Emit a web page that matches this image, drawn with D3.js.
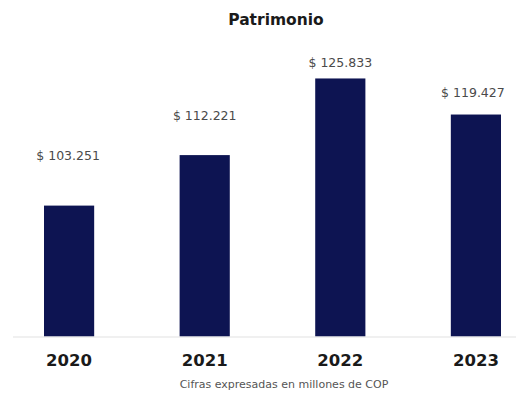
<!DOCTYPE html>
<html>
<head>
<meta charset="utf-8">
<script src="https://cdn.jsdelivr.net/npm/d3@7"></script>
<style>
  html, body { margin: 0; padding: 0; background: #fff; }
  svg { display: block; }
</style>
</head>
<body>
<svg id="chart" width="522" height="394"></svg>
<script>
// ---- data ----
const categories = ["2020", "2021", "2022", "2023"];
const values = [103251, 112221, 125833, 119427];
const valueLabels = ["$ 103.251", "$ 112.221", "$ 125.833", "$ 119.427"];
const title = "Patrimonio";
const subtitle = "Cifras expresadas en millones de COP";

// ---- layout ----
const W = 522, H = 394;
const baseY = 336.5;
const labelGap = [46, 35, 11.5, 17.5]; // distance of value label above bar top
const labelDx = [-1, 0, 0, -3];

const svg = d3.select("#chart");

const x = d3.scaleBand()
  .domain(categories)
  .range([44, 501])
  .paddingInner(0.63)
  .paddingOuter(0);

const y = d3.scaleLinear()
  .domain([80000, 130000])
  .range([baseY, baseY - 281.5]);

// title
svg.append("text")
  .attr("x", 276).attr("y", 25)
  .attr("text-anchor", "middle")
  .attr("font-family", "DejaVu Sans, Verdana, sans-serif")
  .attr("font-weight", "bold")
  .attr("font-size", 15.5)
  .attr("fill", "#1a1a1a")
  .text(title);

// bars
svg.selectAll("rect.bar")
  .data(values)
  .join("rect")
  .attr("class", "bar")
  .attr("x", (d, i) => x(categories[i]))
  .attr("width", x.bandwidth())
  .attr("y", d => y(d))
  .attr("height", d => baseY - y(d))
  .attr("fill", "#0d1452");

// baseline axis
const xAxis = d3.axisBottom(x).tickSize(0).tickPadding(0);
const axisG = svg.append("g")
  .attr("transform", `translate(0,${baseY + 0.5})`)
  .call(xAxis);
axisG.select(".domain").remove();
axisG.selectAll(".tick text").remove();
axisG.append("line")
  .attr("x1", 13).attr("x2", 516)
  .attr("y1", 0).attr("y2", 0)
  .attr("stroke", "#e2e2e2").attr("stroke-width", 1.2);

// year labels
axisG.selectAll("text.year")
  .data(categories)
  .join("text")
  .attr("class", "year")
  .attr("x", d => x(d) + x.bandwidth() / 2)
  .attr("y", 366 - baseY - 0.5)
  .attr("text-anchor", "middle")
  .attr("font-family", "DejaVu Sans, Verdana, sans-serif")
  .attr("font-weight", "bold")
  .attr("font-size", 16.5)
  .attr("fill", "#1a1a1a")
  .text(d => d);

// value labels
svg.selectAll("text.val")
  .data(values)
  .join("text")
  .attr("class", "val")
  .attr("x", (d, i) => x(categories[i]) + x.bandwidth() / 2 + labelDx[i])
  .attr("y", (d, i) => y(d) - labelGap[i])
  .attr("text-anchor", "middle")
  .attr("font-family", "DejaVu Sans, Verdana, sans-serif")
  .attr("font-size", 12.5)
  .attr("fill", "#4a4a4a")
  .text((d, i) => valueLabels[i]);

// subtitle
svg.append("text")
  .attr("x", 284).attr("y", 388)
  .attr("text-anchor", "middle")
  .attr("font-family", "DejaVu Sans, Verdana, sans-serif")
  .attr("font-size", 11)
  .attr("fill", "#555")
  .text(subtitle);
</script>
</body>
</html>
